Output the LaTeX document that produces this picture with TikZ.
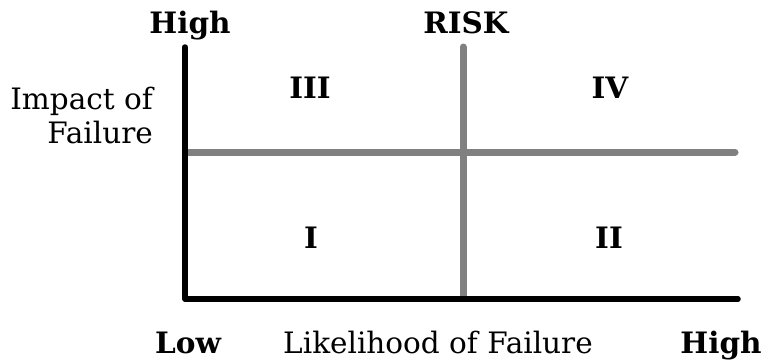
\documentclass[tikz,border=0pt]{standalone}
\usepackage{fontspec}
\setmainfont{DejaVu Serif}
\begin{document}
\begin{tikzpicture}[x=1pt,y=-1pt,
  lbl/.style={inner sep=0pt, font=\fontsize{29.5}{34}\selectfont},
  blbl/.style={inner sep=0pt, font=\fontsize{29.5}{34}\selectfont\bfseries},
  axisline/.style={line width=5.5pt, black, line cap=round, line join=round},
  divline/.style={line width=7pt, gray, line cap=round}]
\useasboundingbox (0,0) rectangle (766,360);
\coordinate (top) at (185,47);
\coordinate (origin) at (185,299);
\coordinate (right) at (738,299);
\coordinate (hl) at (187,152);
\coordinate (hr) at (735,152);
\coordinate (vt) at (463,47);
\coordinate (vb) at (463,297);
\draw[divline] (hl) -- (hr);
\draw[divline] (vt) -- (vb);
\draw[axisline] (top) -- (origin) -- (right);
\node[blbl, anchor=base] (hightop) at (190,33) {High};
\node[blbl, anchor=base] (risk) at (466,33) {RISK};
\node[blbl, anchor=base] (q3) at (310,98) {III};
\node[blbl, anchor=base] (q4) at (610,98) {IV};
\node[blbl, anchor=base] (q1) at (311,248) {I};
\node[blbl, anchor=base] (q2) at (609,248) {II};
\node[lbl, anchor=base east, align=right] (impact) at (153,143) {Impact of\\Failure};
\node[blbl, anchor=base] (low) at (188,353) {Low};
\node[lbl, anchor=base] (likely) at (438,353) {Likelihood of Failure};
\node[blbl, anchor=base] (highbot) at (721,353) {High};
\end{tikzpicture}
\end{document}
